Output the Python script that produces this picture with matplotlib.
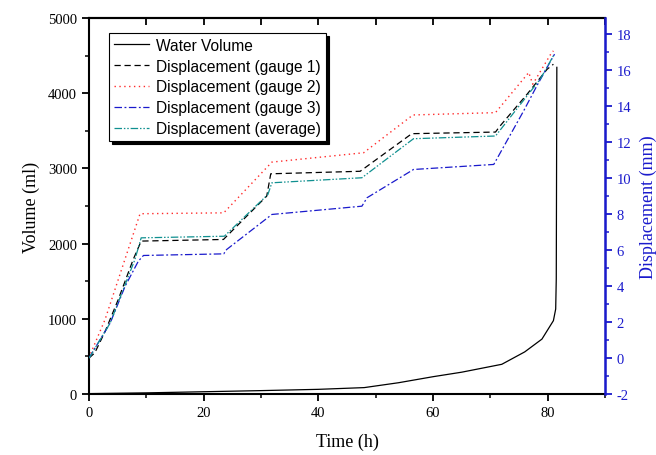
import matplotlib.pyplot as plt
from matplotlib.ticker import MultipleLocator

plt.rcParams['axes.unicode_minus'] = False
plt.rcParams['font.family'] = 'Liberation Serif'

# --- Data ---
# water volume (ml) vs time (h)
t_water = [0, 10, 20, 30, 40, 48, 54, 60, 65, 72, 76, 79, 81, 81.4, 81.5, 81.6]
volume = [5, 15, 30, 45, 62, 85, 150, 230, 290, 395, 560, 730, 975, 1130, 1530, 4344]

# displacement (mm) vs time (h)
t_g1 = [0, 1.0, 2.8, 5.1, 7.7, 9.1, 23.45, 31.0, 31.7, 47.3, 56.3, 70.9, 71.7, 76.4, 79.9, 81.0]
disp_g1 = [0.0, 0.28, 1.47, 3.25, 5.47, 6.50, 6.59, 9.0, 10.24, 10.38, 12.47, 12.56, 12.90, 14.66, 16.05, 16.33]

t_g2 = [0, 0.3, 2.8, 5.1, 8.9, 23.5, 31.9, 47.9, 56.5, 70.9, 76.7, 77.4, 80.7, 81.0]
disp_g2 = [0.0, 0.26, 2.14, 4.36, 8.02, 8.07, 10.89, 11.41, 13.51, 13.64, 15.87, 15.22, 16.98, 17.07]

t_g3 = [0, 3.7, 6.3, 8.6, 9.5, 23.5, 24.0, 31.9, 47.6, 48.5, 56.6, 70.6, 75.8, 78.1, 80.7, 81.2]
disp_g3 = [0.0, 1.95, 3.99, 5.38, 5.70, 5.79, 6.03, 7.98, 8.44, 8.91, 10.48, 10.76, 13.73, 15.12, 16.61, 16.89]

t_avg = [0, 0.2, 3.7, 8.0, 9.1, 23.6, 31.2, 31.9, 47.6, 56.6, 70.9, 76.4, 78.7, 81.0]
disp_avg = [0.0, 0.09, 1.95, 5.47, 6.68, 6.77, 9.09, 9.74, 10.02, 12.19, 12.34, 14.57, 15.50, 16.80]

labels = ['Water Volume', 'Displacement (gauge 1)', 'Displacement (gauge 2)',
          'Displacement (gauge 3)', 'Displacement (average)']

# --- Figure ---
fig = plt.figure(figsize=(6.56, 4.56), dpi=100)
ax = fig.add_axes([89 / 656, 1 - 395 / 456, (605 - 89) / 656, (395 - 19) / 456])
ax2 = ax.twinx()

l0, = ax.plot(t_water, volume, color='black', lw=0.9)
l1, = ax2.plot(t_g1, disp_g1, color='black', lw=0.9, ls=(0, (5, 3)))
l2, = ax2.plot(t_g2, disp_g2, color='#ff2a2a', lw=1.0, ls=(0, (1, 2.5)))
l3, = ax2.plot(t_g3, disp_g3, color='#1a1acc', lw=0.9, ls=(0, (6, 2, 1.5, 2)))
l4, = ax2.plot(t_avg, disp_avg, color='#109090', lw=0.9, ls=(0, (6, 1.5, 1.2, 1.5, 1.2, 1.5)))

ax.set_xlim(0, 90)
ax.set_ylim(0, 5000)
ax2.set_ylim(-2, 18.9)

# ticks
ax.xaxis.set_major_locator(MultipleLocator(20))
ax.xaxis.set_minor_locator(MultipleLocator(10))
ax.yaxis.set_major_locator(MultipleLocator(1000))
ax.yaxis.set_minor_locator(MultipleLocator(500))
ax.tick_params(which='major', direction='out', length=5, width=1.3, labelsize=10.5)
ax.tick_params(which='minor', direction='out', length=3, width=1.1)

top = ax.secondary_xaxis('top')
top.xaxis.set_major_locator(MultipleLocator(10))
top.tick_params(direction='in', length=5, width=1.3, labeltop=False)
top.spines['top'].set_linewidth(1.5)

ax2.yaxis.set_major_locator(MultipleLocator(2))
ax2.yaxis.set_minor_locator(MultipleLocator(1))
ax2.tick_params(which='major', direction='out', length=5, width=1.3,
                colors='#1a1acc', labelsize=10.5)
ax2.tick_params(which='minor', direction='out', length=3, width=1.1, colors='#1a1acc')

for s in ['left', 'bottom', 'top']:
    ax.spines[s].set_linewidth(1.5)
ax2.spines['right'].set_color('#1a1acc')
ax2.spines['right'].set_linewidth(1.8)
ax2.spines['left'].set_visible(False)
ax2.spines['top'].set_visible(False)
ax2.spines['bottom'].set_visible(False)

ax.set_xlabel('Time (h)', fontsize=13, labelpad=10)
ax.set_ylabel('Volume (ml)', fontsize=13, labelpad=6)
ax2.set_ylabel('Displacement (mm)', fontsize=13, color='#1a1acc', labelpad=6)

leg = ax2.legend([l0, l1, l2, l3, l4], labels, loc='upper left',
                 bbox_to_anchor=(109 / 656, 1 - 34 / 456), bbox_transform=fig.transFigure,
                 borderaxespad=0, frameon=True, fancybox=False,
                 shadow={'color': 'black', 'alpha': 1},
                 prop={'family': 'Liberation Sans', 'size': 11.2},
                 handlelength=2.3, handletextpad=0.45, labelspacing=0.38,
                 borderpad=0.3)
leg.get_frame().set_edgecolor('black')
leg.get_frame().set_linewidth(0.8)

fig.savefig('out.png', dpi=100)
